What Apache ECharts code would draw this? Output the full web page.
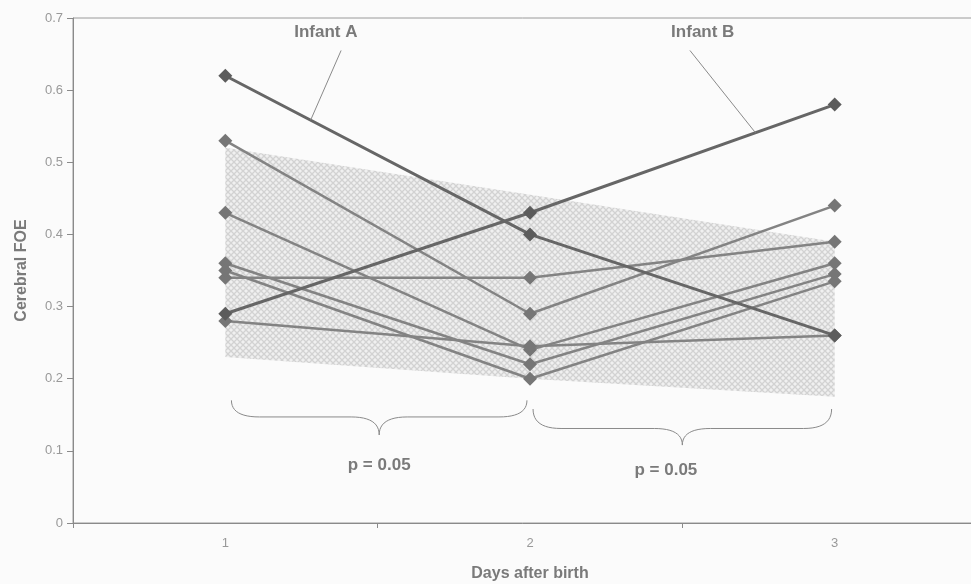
<!DOCTYPE html>
<html><head><meta charset="utf-8">
<script src="https://cdn.jsdelivr.net/npm/echarts@6/dist/echarts.min.js"></script>
<style>html,body{margin:0;padding:0;background:#fbfbfb;}#c{width:971px;height:584px;}</style>
</head><body><div id="c"></div>
<script>
const days = ['1', '2', '3'];
const yTicks = [0, 0.1, 0.2, 0.3, 0.4, 0.5, 0.6, 0.7];
const infantA = [0.62, 0.40, 0.26];
const infantB = [0.29, 0.43, 0.58];
const infant3 = [0.53, 0.29, 0.44];
const infant4 = [0.34, 0.34, 0.39];
const infant5 = [0.43, 0.24, 0.36];
const infant6 = [0.28, 0.245, 0.26];
const infant7 = [0.36, 0.22, 0.345];
const infant8 = [0.35, 0.20, 0.335];
const bandLower = [0.23, 0.20, 0.175];
const bandUpper = [0.52, 0.455, 0.39];
const pLabels = ['p = 0.05', 'p = 0.05'];

// hatch pattern
const pc = document.createElement('canvas');
pc.width = 6; pc.height = 6;
const g = pc.getContext('2d');
g.fillStyle = '#f0f0f0'; g.fillRect(0, 0, 6, 6);
g.strokeStyle = '#d2d2d2'; g.lineWidth = 1.3;
g.beginPath(); g.moveTo(0, 0); g.lineTo(6, 6); g.moveTo(6, 0); g.lineTo(0, 6); g.stroke();

const font = '"Liberation Sans", Arial, sans-serif';
const chart = echarts.init(document.getElementById('c'));

function lineSeries(name, data, dark) {
  return {
    name: name, type: 'line', data: data, z: dark ? 4 : 3,
    symbol: 'diamond', symbolSize: 14, showSymbol: true,
    lineStyle: { color: dark ? '#666' : '#838383', width: dark ? 3 : 2.5 },
    itemStyle: { color: dark ? '#5c5c5c' : '#767676' },
    emphasis: { disabled: true }, animation: false
  };
}

const bandDiff = bandUpper.map((v, i) => +(v - bandLower[i]).toFixed(4));

chart.setOption({
  backgroundColor: '#fbfbfb',
  animation: false,
  grid: { left: 73, right: -16, top: 18, bottom: 61, outerBoundsMode: 'none', containLabel: false,
    show: true, borderColor: '#9a9a9a', borderWidth: 1 },
  xAxis: {
    type: 'category', data: days, boundaryGap: true,
    name: 'Days after birth', nameLocation: 'middle', nameGap: 43,
    nameTextStyle: { fontFamily: font, fontSize: 16, fontWeight: 'bold', color: '#7a7a7a' },
    axisLine: { lineStyle: { color: '#8a8a8a', width: 1 } },
    axisTick: { show: true, length: 5, lineStyle: { color: '#8a8a8a' } },
    axisLabel: { fontFamily: font, fontSize: 13, color: '#999', margin: 14 }
  },
  yAxis: {
    type: 'value', min: 0, max: 0.7, interval: 0.1,
    name: 'Cerebral FOE', nameLocation: 'middle', nameGap: 43,
    nameTextStyle: { fontFamily: font, fontSize: 16, fontWeight: 'bold', color: '#7a7a7a' },
    axisLine: { show: true, lineStyle: { color: '#8a8a8a', width: 1 } },
    axisTick: { show: true, length: 6, lineStyle: { color: '#8a8a8a' } },
    splitLine: { show: false },
    axisLabel: { fontFamily: font, fontSize: 13, color: '#999', margin: 10,
      formatter: v => { const t = yTicks.find(x => Math.abs(x - v) < 1e-9); return t === undefined ? '' : String(t); } }
  },
  series: [
    { name: 'lower', type: 'line', data: bandLower, stack: 'band', symbol: 'none',
      lineStyle: { opacity: 0 }, z: 1, silent: true },
    { name: 'band', type: 'line', data: bandDiff, stack: 'band', symbol: 'none',
      lineStyle: { opacity: 0 }, z: 1, silent: true,
      areaStyle: { color: { image: pc, repeat: 'repeat' }, opacity: 1 } },
    lineSeries('Infant 3', infant3, false),
    lineSeries('Infant 4', infant4, false),
    lineSeries('Infant 5', infant5, false),
    lineSeries('Infant 6', infant6, false),
    lineSeries('Infant 7', infant7, false),
    lineSeries('Infant 8', infant8, false),
    lineSeries('Infant A', infantA, true),
    lineSeries('Infant B', infantB, true)
  ]
});

function px(cat, val) {
  const i = Math.floor(cat), f = cat - i;
  const a = chart.convertToPixel({ gridIndex: 0 }, [i, val]);
  const b = chart.convertToPixel({ gridIndex: 0 }, [i + 1, val]);
  return [a[0] + f * (b[0] - a[0]), a[1]];
}
function quad(pts, p0, c, p1) {
  for (let k = 1; k <= 12; k++) {
    const t = k / 12, u = 1 - t;
    pts.push([u * u * p0[0] + 2 * u * t * c[0] + t * t * p1[0], u * u * p0[1] + 2 * u * t * c[1] + t * t * p1[1]]);
  }
}
function brace(c1, c2, vTop, vFlat, vTip) {
  const cm = (c1 + c2) / 2;
  const L = px(c1, vTop), LF = px(c1, vFlat), M = px(cm, vFlat), T = px(cm, vTip), RF = px(c2, vFlat), R = px(c2, vTop);
  const r = 28;
  const pts = [L];
  quad(pts, L, LF, [LF[0] + r, LF[1]]);
  pts.push([M[0] - r, M[1]]);
  quad(pts, [M[0] - r, M[1]], M, T);
  quad(pts, T, M, [M[0] + r, M[1]]);
  pts.push([RF[0] - r, RF[1]]);
  quad(pts, [RF[0] - r, RF[1]], RF, R);
  return { type: 'polyline', shape: { points: pts }, style: { fill: null, stroke: '#8a8a8a', lineWidth: 1 }, z: 10 };
}
function label(text, cat, val) {
  const p = px(cat, val);
  return { type: 'text', x: p[0], y: p[1], z: 10,
    style: { text: text, font: 'bold 17px ' + font, fill: '#7a7a7a', align: 'center', verticalAlign: 'middle' } };
}
function pointer(c1, v1, c2, v2) {
  const a = px(c1, v1), b = px(c2, v2);
  return { type: 'line', shape: { x1: a[0], y1: a[1], x2: b[0], y2: b[1] }, style: { stroke: '#8a8a8a', lineWidth: 1 }, z: 10 };
}
const aOnLine = 0.28, bOnLine = 1.74;
chart.setOption({
  graphic: [
    brace(0.02, 0.99, 0.17, 0.147, 0.122),
    brace(1.01, 1.99, 0.158, 0.131, 0.108),
    label(pLabels[0], 0.505, 0.080),
    label(pLabels[1], 1.446, 0.073),
    label('Infant A', 0.33, 0.68),
    label('Infant B', 1.567, 0.68),
    pointer(0.38, 0.655, aOnLine, infantA[0] + aOnLine * (infantA[1] - infantA[0])),
    pointer(1.525, 0.655, bOnLine, infantB[1] + (bOnLine - 1) * (infantB[2] - infantB[1]))
  ]
});
</script></body></html>
